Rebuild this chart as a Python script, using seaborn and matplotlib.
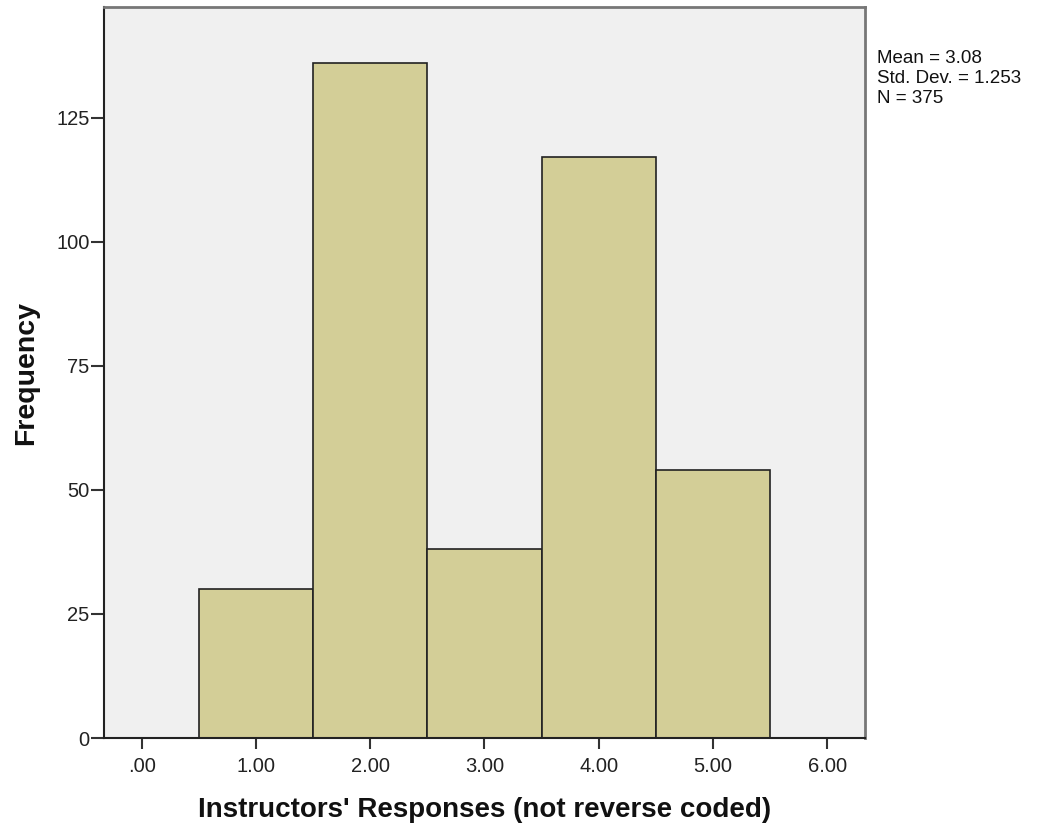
import numpy as np
import pandas as pd
import seaborn as sns
import matplotlib.pyplot as plt

# valeurs de réponse et fréquences
responses = [1, 2, 3, 4, 5]
counts = [30, 136, 38, 117, 54]
x_ticks = [0, 1, 2, 3, 4, 5, 6]
x_labels = ['.00', '1.00', '2.00', '3.00', '4.00', '5.00', '6.00']
y_ticks = [0, 25, 50, 75, 100, 125]
stats_text = 'Mean = 3.08\nStd. Dev. = 1.253\nN = 375'

df = pd.DataFrame({'response': responses, 'count': counts})

sns.set_style('white')
plt.rcParams['font.family'] = ['Liberation Sans', 'DejaVu Sans']

fig = plt.figure(figsize=(10.41, 8.27), dpi=100)
ax = fig.add_axes([0.0999, 0.1076, 0.7310, 0.8839])
ax.set_facecolor('#F0F0F0')

sns.histplot(data=df, x='response', weights='count', discrete=True,
             color='#D3CE97', alpha=1, edgecolor='#222222', linewidth=1.2, ax=ax)

ax.set_xlim(-0.33, 6.33)
ax.set_ylim(0, 147.3)
ax.set_xticks(x_ticks)
ax.set_xticklabels(x_labels)
ax.set_yticks(y_ticks)
ax.tick_params(bottom=True, left=True, direction='out', width=1.5, color='#333333',
               labelsize=14.5, labelcolor='#222222')
ax.tick_params(axis='x', length=8, pad=6)
ax.tick_params(axis='y', length=9.5, pad=1)
ax.set_xlabel("Instructors' Responses (not reverse coded)", fontsize=20,
              fontweight='bold', labelpad=15, color='#111111')
ax.set_ylabel('Frequency', fontsize=20.5, fontweight='bold', labelpad=12,
              color='#111111')

for side in ['left', 'bottom']:
    ax.spines[side].set_color('#222222')
    ax.spines[side].set_linewidth(1.5)
for side in ['top', 'right']:
    ax.spines[side].set_color('#777777')
    ax.spines[side].set_linewidth(2)

fig.text(0.842, 0.940, stats_text, fontsize=13.5, va='top', ha='left',
         linespacing=1.25, color='#111111')

fig.savefig('out.png', dpi=100)
